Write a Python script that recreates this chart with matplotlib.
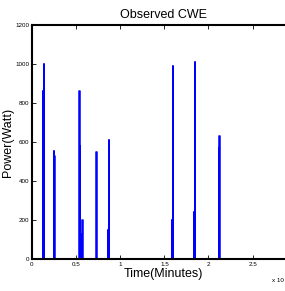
import numpy as np
import matplotlib
matplotlib.use("Agg")
import matplotlib.pyplot as plt

plt.rcParams['font.family'] = ['Liberation Sans Narrow', 'Liberation Sans', 'DejaVu Sans']

# spike events: time (minutes) and peak power (Watt)
event_times = [1230, 1320, 2480, 2550, 5380, 5450, 5650, 5720, 7300, 8600, 8700,
               15850, 15930, 18350, 18420, 21150, 21220]
event_peaks = [860, 1000, 555, 530, 860, 580, 130, 200, 550, 150, 610,
               200, 990, 240, 1010, 570, 630]
spike_width = 40

# build the signal: zero baseline with short spikes
t = [0.0]
p = [0.0]
for et, ep in zip(event_times, event_peaks):
    t += [et, et, et + spike_width, et + spike_width]
    p += [0, ep, ep, 0]
t.append(29700)
p.append(0)
t = np.array(t)
p = np.array(p)

fig = plt.figure(figsize=(2.85, 2.91), dpi=100)
ax = fig.add_axes([0.112, 0.110, 0.92, 0.804])
ax.plot(t, p, color='#0000ff', lw=1.1)
ax.axhline(0, color='#0000ff', lw=2.0)

ax.set_xlim(0, 29700)
ax.set_ylim(0, 1200)
ax.set_xticks([0, 5000, 10000, 15000, 20000, 25000])
ax.set_xticklabels(['0', '0.5', '1', '1.5', '2', '2.5'])
ax.set_yticks([0, 200, 400, 600, 800, 1000, 1200])
ax.tick_params(direction='in', length=3, width=0.6, labelsize=4.5, pad=2, top=True)
for s in ['left', 'top', 'bottom']:
    ax.spines[s].set_linewidth(1.5)
ax.spines['right'].set_visible(False)

ax.set_title('Observed CWE', fontsize=9, pad=5)
ax.set_xlabel('Time(Minutes)', fontsize=9, labelpad=1)
ax.set_ylabel('Power(Watt)', fontsize=9, family=['Liberation Sans', 'DejaVu Sans'])
ax.yaxis.set_label_coords(-0.07, 0.5)
fig.text(0.955, 0.03, 'x 10', fontsize=4.5)

fig.savefig('out.png', dpi=100)
